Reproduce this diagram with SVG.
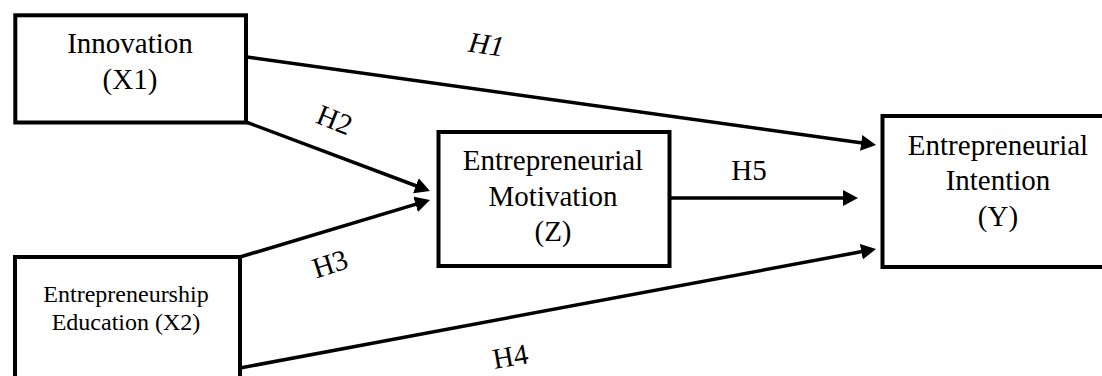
<svg xmlns="http://www.w3.org/2000/svg" width="1102" height="376" viewBox="0 0 1102 376">
<style>
.box{fill:#fff;stroke:#000;stroke-width:4}
.t{font-family:"Liberation Serif","Times New Roman",serif;fill:#000;text-anchor:middle}
.big{font-size:29px}
.small{font-size:24px}
.conn{stroke:#000;stroke-width:3.5;fill:none}
</style>
<defs>
<marker id="ah" markerUnits="userSpaceOnUse" markerWidth="16" markerHeight="17" refX="5" refY="8" orient="auto" viewBox="0 0 16 17">
<path d="M0,0 L15,8 L0,16 z" fill="#000"/>
</marker>
</defs>
<g id="connectors">
<line class="conn" x1="247" y1="57" x2="866.1" y2="143.6" marker-end="url(#ah)"/>
<line class="conn" x1="246" y1="122" x2="420.6" y2="187.5" marker-end="url(#ah)"/>
<line class="conn" x1="240" y1="257" x2="420.4" y2="202.9" marker-end="url(#ah)"/>
<line class="conn" x1="671" y1="198" x2="848" y2="198" marker-end="url(#ah)"/>
<line class="conn" x1="240" y1="368" x2="866.2" y2="250.8" marker-end="url(#ah)"/>
<text class="t big" font-style="italic" transform="translate(485,54) rotate(8)">H1</text>
<text class="t big" transform="translate(331,129) rotate(22)">H2</text>
<text class="t big" transform="translate(333,273) rotate(-18)">H3</text>
<text class="t big" transform="translate(512,366) rotate(-10)">H4</text>
<text class="t big" x="749" y="180">H5</text>
</g>
<g id="innovation">
<rect class="box" x="15.3" y="15.3" width="230.7" height="107.2"/>
<text class="t big" x="130" y="53">Innovation</text>
<text class="t big" x="130" y="89">(X1)</text>
</g>
<g id="education">
<rect class="box" x="15" y="257" width="225" height="140"/>
<text class="t small" x="126" y="302">Entrepreneurship</text>
<text class="t small" x="126" y="330">Education (X2)</text>
</g>
<g id="motivation">
<rect class="box" x="438.5" y="132" width="231" height="134"/>
<text class="t big" x="553" y="170">Entrepreneurial</text>
<text class="t big" x="553" y="206">Motivation</text>
<text class="t big" x="553" y="241">(Z)</text>
</g>
<g id="intention">
<rect class="box" x="882.5" y="116" width="240" height="151"/>
<text class="t big" x="998" y="155">Entrepreneurial</text>
<text class="t big" x="998" y="190">Intention</text>
<text class="t big" x="998" y="226">(Y)</text>
</g>
</svg>
